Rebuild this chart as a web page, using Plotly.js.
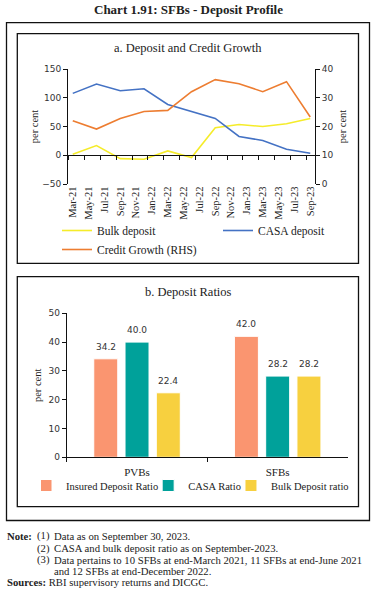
<!DOCTYPE html>
<html>
<head>
<meta charset="utf-8">
<script src="https://cdn.plot.ly/plotly-3.0.1.min.js"></script>
<style>html,body{margin:0;padding:0;background:#fff;}#chart{width:376px;height:598px;}</style>
</head>
<body>
<div id="chart"></div>
<script>
// ---- data ----
const monthLabels = ['Mar-21','Apr-21','May-21','Jun-21','Jul-21','Aug-21','Sep-21','Oct-21','Nov-21','Dec-21',
  'Jan-22','Feb-22','Mar-22','Apr-22','May-22','Jun-22','Jul-22','Aug-22','Sep-22','Oct-22','Nov-22','Dec-22',
  'Jan-23','Feb-23','Mar-23','Apr-23','May-23','Jun-23','Jul-23','Aug-23','Sep-23'];
const quarters = ['Mar-21','Jun-21','Sep-21','Dec-21','Mar-22','Jun-22','Sep-22','Dec-22','Mar-23','Jun-23','Sep-23'];
const bulkDeposit = [1.7, 16.9, -5.8, -7.0, 7.6, -4.0, 47.7, 53.5, 50.0, 54.7, 64.0];
const casaDeposit = [107.6, 123.8, 112.2, 115.7, 88.4, 76.7, 64.0, 32.6, 25.6, 10.5, 3.5];
const creditGrowth = [22.0, 19.1, 22.8, 25.2, 25.6, 32.1, 36.3, 34.9, 32.1, 35.6, 23.3];

const bankGroups = ['PVBs','SFBs'];
const insuredRatio = [34.2, 42.0];
const casaRatio = [40.0, 28.2];
const bulkRatio = [22.4, 28.2];

// ---- geometry helpers ----
const W = 376, H = 598;
const px = x => x / W;
const py = y => 1 - y / H;
const SERIF = 'Liberation Serif, Times New Roman, serif';
const SANS = 'DejaVu Sans, Verdana, sans-serif';

const aY0 = 184, aY1 = 69;           // panel a plot area (px)
const aRange = [-50, 150];
const aDomY = [py(aY0), py(aY1)];
const zeroPos = aDomY[0] + (0 - aRange[0]) / (aRange[1] - aRange[0]) * (aDomY[1] - aDomY[0]);

const bargap = 0.333, bargroupgap = 0.233;

const traces = [
  {x: quarters, y: bulkDeposit, name: 'Bulk deposit', type: 'scatter', mode: 'lines',
   line: {color: '#F5EC2A', width: 1.6}, xaxis: 'x', yaxis: 'y', legend: 'legend', legendwidth: 116},
  {x: quarters, y: casaDeposit, name: 'CASA deposit', type: 'scatter', mode: 'lines',
   line: {color: '#4472C4', width: 1.6}, xaxis: 'x', yaxis: 'y', legend: 'legend'},
  {x: quarters, y: creditGrowth, name: 'Credit Growth (RHS)', type: 'scatter', mode: 'lines',
   line: {color: '#ED7D31', width: 1.6}, xaxis: 'x', yaxis: 'y2', legend: 'legend'},
  {x: bankGroups, y: insuredRatio, name: 'Insured Deposit Ratio', type: 'bar',
   marker: {color: '#FA9570', line: {color: '#ffffff', width: 1}}, xaxis: 'x2', yaxis: 'y3', legend: 'legend2'},
  {x: bankGroups, y: casaRatio, name: 'CASA Ratio', type: 'bar',
   marker: {color: '#00A19A', line: {color: '#ffffff', width: 1}}, xaxis: 'x2', yaxis: 'y3', legend: 'legend2'},
  {x: bankGroups, y: bulkRatio, name: 'Bulk Deposit ratio', type: 'bar',
   marker: {color: '#F7D03F', line: {color: '#ffffff', width: 1}}, xaxis: 'x2', yaxis: 'y3', legend: 'legend2'}
];

// value labels above bars
const annotations = [];
const barSeries = [insuredRatio, casaRatio, bulkRatio];
const slot = (1 - bargap) / barSeries.length;
barSeries.forEach((vals, i) => {
  vals.forEach((v, j) => {
    annotations.push({xref: 'x2', yref: 'y3', x: j - (1 - bargap) / 2 + slot * (i + 0.5), y: v,
      text: v.toFixed(1), showarrow: false, yanchor: 'middle', yshift: 12,
      font: {family: SANS, size: 9, color: '#333'}});
  });
});

function txt(text, x, y, opts) {
  return Object.assign({xref: 'paper', yref: 'paper', x: px(x), y: py(y), text: text, showarrow: false,
    xanchor: 'left', yanchor: 'middle', font: {family: SERIF, size: 10.7, color: '#222'}}, opts || {});
}
annotations.push(txt('<b>Chart 1.91: SFBs - Deposit Profile</b>', 188, 10, {xanchor: 'center', font: {family: SERIF, size: 13, color: '#222'}}));
annotations.push(txt('a. Deposit and Credit Growth', 188, 48, {xanchor: 'center', font: {family: SERIF, size: 12.5, color: '#222'}}));
annotations.push(txt('b. Deposit Ratios', 188, 292, {xanchor: 'center', font: {family: SERIF, size: 12.5, color: '#222'}}));
annotations.push(txt('<b>Note:</b>', 5, 535.5));
annotations.push(txt('(1)', 35, 535.5));
annotations.push(txt('Data as on September 30, 2023.', 52, 535.5));
annotations.push(txt('(2)', 35, 548));
annotations.push(txt('CASA and bulk deposit ratio as on September-2023.', 52, 548));
annotations.push(txt('(3)', 35, 559.5));
annotations.push(txt('Data pertains to 10 SFBs at end-March 2021, 11 SFBs at end-June 2021', 52, 559.5));
annotations.push(txt('and 12 SFBs at end-December 2022.', 52, 570.5));
annotations.push(txt('<b>Sources:</b> RBI supervisory returns and DICGC.', 5, 582));

const box = (x0, y0, x1, y1, w) => ({type: 'rect', xref: 'paper', yref: 'paper',
  x0: px(x0), x1: px(x1), y0: py(y1), y1: py(y0), line: {color: '#111', width: w}, fillcolor: 'rgba(0,0,0,0)', layer: 'below'});

const tickFontA = {family: SANS, size: 9, color: '#333'};

const layout = {
  width: W, height: H,
  margin: {l: 0, r: 0, t: 0, b: 0},
  paper_bgcolor: '#fff', plot_bgcolor: 'rgba(0,0,0,0)',
  showlegend: true,
  xaxis: {
    domain: [px(68), px(315)], anchor: 'free', position: zeroPos,
    type: 'category', categoryorder: 'array', categoryarray: monthLabels,
    range: [-0.6, 30.6], tickmode: 'linear', tick0: 0, dtick: 2, tickson: 'boundaries',
    ticks: 'outside', ticklen: 4, tickcolor: '#111', showline: true, linecolor: '#111', linewidth: 1,
    showgrid: false, zeroline: false, tickangle: -90, ticklabelstandoff: 26,
    tickfont: {family: SERIF, size: 10.5, color: '#222'}
  },
  yaxis: {
    domain: aDomY, anchor: 'x', range: aRange, dtick: 50, showgrid: false, zeroline: false,
    ticks: 'outside', ticklen: 4, tickcolor: '#111', showline: true, linecolor: '#111', linewidth: 1,
    tickfont: tickFontA,
    title: {text: 'per cent', font: {family: SERIF, size: 10.5, color: '#222'}, standoff: 1}
  },
  yaxis2: {
    overlaying: 'y', side: 'right', anchor: 'x', range: [0, 40], dtick: 10, showgrid: false, zeroline: false,
    ticks: 'outside', ticklen: 4, tickcolor: '#111', showline: true, linecolor: '#111', linewidth: 1,
    tickfont: tickFontA,
    title: {text: 'per cent', font: {family: SERIF, size: 10.5, color: '#222'}, standoff: 6}
  },
  xaxis2: {
    domain: [px(66.7), px(348)], anchor: 'y3', type: 'category', showgrid: false, zeroline: false,
    ticks: 'outside', ticklen: 4, tickcolor: '#111', tickson: 'boundaries', showline: true, linecolor: '#111', linewidth: 1,
    ticklabelstandoff: 4,
    tickfont: {family: SERIF, size: 11, color: '#222'}
  },
  yaxis3: {
    domain: [py(457.3), py(313.3)], anchor: 'x2', range: [0, 50], dtick: 10, showgrid: false, zeroline: false,
    ticks: 'outside', ticklen: 4, tickcolor: '#111', showline: true, linecolor: '#111', linewidth: 1,
    tickfont: tickFontA,
    title: {text: 'per cent', font: {family: SERIF, size: 10.5, color: '#222'}, standoff: 4}
  },
  barmode: 'group', bargap: bargap, bargroupgap: bargroupgap,
  legend: {orientation: 'h', x: px(57), y: py(216), xanchor: 'left', yanchor: 'top',
    font: {family: SERIF, size: 11.5, color: '#222'}, bgcolor: 'rgba(0,0,0,0)', borderwidth: 0, tracegroupgap: 0},
  legend2: {orientation: 'h', x: px(41), y: py(471), xanchor: 'left', yanchor: 'top', indentation: -15,
    font: {family: SERIF, size: 10.5, color: '#222'}, bgcolor: 'rgba(0,0,0,0)', borderwidth: 0},
  shapes: [box(6.5, 22.7, 369.5, 520.5, 1.3), box(17.3, 33.7, 358.5, 263.3, 1.3), box(17.3, 276.7, 358.5, 506.7, 1.3)],
  annotations: annotations
};

Plotly.newPlot('chart', traces, layout, {staticPlot: true, displayModeBar: false});
</script>
</body>
</html>
